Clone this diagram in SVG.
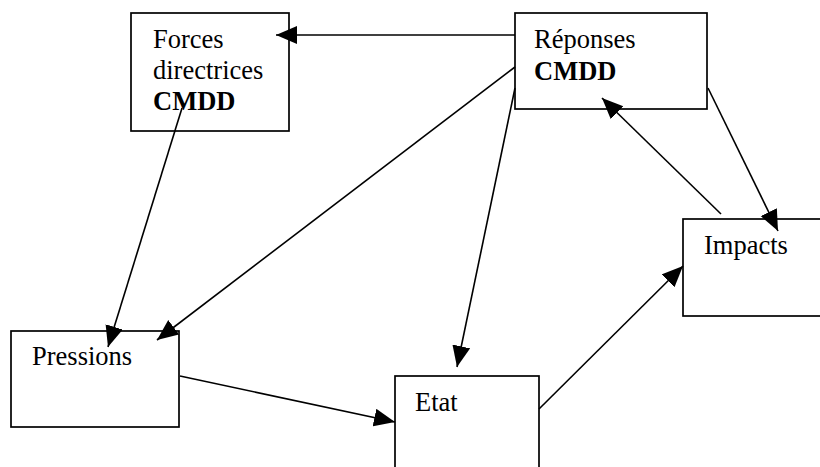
<svg xmlns="http://www.w3.org/2000/svg" width="820" height="467" viewBox="0 0 820 467">
<style>
  .box { fill: #ffffff; stroke: #000000; stroke-width: 1.7; }
  .lbl { font-family: "Liberation Serif", "Times New Roman", serif; font-size: 26.5px; fill: #000000; }
  .b { font-weight: bold; }
  .edge { stroke: #000000; stroke-width: 1.6; fill: none; marker-end: url(#ah); }
</style>
<defs>
  <marker id="ah" markerUnits="userSpaceOnUse" markerWidth="22" markerHeight="19" refX="21" refY="9" orient="auto">
    <path d="M0,0 L21,9 L0,18 z" fill="#000000"/>
  </marker>
</defs>
<rect width="820" height="467" fill="#ffffff"/>
<g id="forces">
  <rect class="box" x="131" y="13" width="158" height="118"/>
  <text class="lbl" x="153" y="48">Forces</text>
  <text class="lbl" x="153" y="79">directrices</text>
  <text class="lbl b" x="153" y="110">CMDD</text>
</g>
<g id="reponses">
  <rect class="box" x="515" y="13" width="192" height="96"/>
  <text class="lbl" x="534" y="48">Réponses</text>
  <text class="lbl b" x="534" y="80">CMDD</text>
</g>
<g id="impacts">
  <rect class="box" x="683" y="219" width="150" height="97"/>
  <text class="lbl" x="704" y="254">Impacts</text>
</g>
<g id="pressions">
  <rect class="box" x="11" y="331" width="168" height="96"/>
  <text class="lbl" x="32" y="365">Pressions</text>
</g>
<g id="etat">
  <rect class="box" x="395" y="376" width="144" height="120"/>
  <text class="lbl" x="415" y="411">Etat</text>
</g>
<g id="connectors">
  <line class="edge" x1="515" y1="35" x2="276" y2="35"/>
  <line class="edge" x1="182" y1="108" x2="108" y2="347"/>
  <line class="edge" x1="515" y1="67" x2="157" y2="340"/>
  <line class="edge" x1="515" y1="88" x2="457" y2="367"/>
  <line class="edge" x1="708" y1="88" x2="778" y2="231"/>
  <line class="edge" x1="721" y1="214" x2="602" y2="98"/>
  <line class="edge" x1="180" y1="376" x2="395" y2="422"/>
  <line class="edge" x1="539" y1="409" x2="683" y2="266"/>
</g>
</svg>
